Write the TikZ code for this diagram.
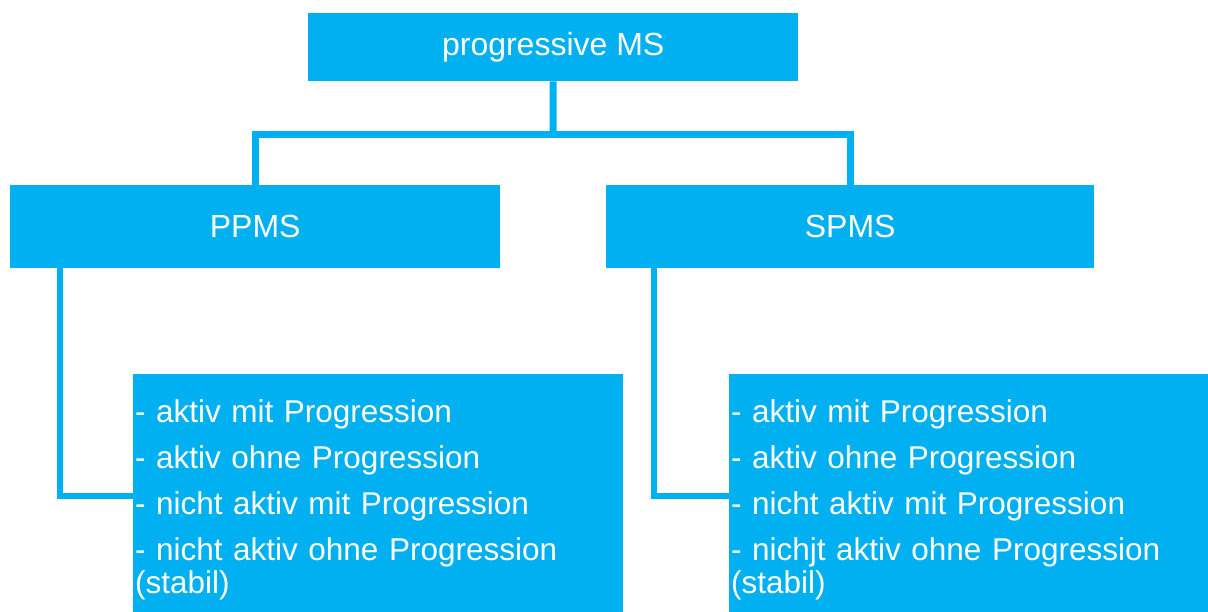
\documentclass[tikz,border=0pt]{standalone}
\usepackage{fontspec}
\setmainfont{Liberation Sans}
\definecolor{msblue}{RGB}{0,176,240}

\begin{document}
\begin{tikzpicture}[x=1pt, y=-1pt, every node/.style={fill=msblue, text=white, inner sep=0pt, font=\fontsize{32}{34}\selectfont}]
  \useasboundingbox (0,0) rectangle (1208,611);
  % top box
  \node[minimum width=490, minimum height=68, anchor=north west] (ms) at (308,13) {progressive MS};
  % the two forms
  \node[minimum width=490, minimum height=83, anchor=north west] (ppms) at (10,185) {PPMS};
  \node[minimum width=488, minimum height=83, anchor=north west] (spms) at (606,185) {SPMS};
  % lists of courses (boxes run past the lower edge)
  \node[minimum height=251, text width=486, inner xsep=2pt, align=left, anchor=north west, font=\fontsize{31.5}{33.5}\selectfont] (ppmsl) at (133,374)
    {- aktiv mit Progression\\[12.5pt]- aktiv ohne Progression\\[12.5pt]- nicht aktiv mit Progression\\[12.5pt]- nicht aktiv ohne Progression\\(stabil)};
  \node[minimum height=251, text width=475, inner xsep=2pt, align=left, anchor=north west, font=\fontsize{31.5}{33.5}\selectfont] (spmsl) at (729,374)
    {- aktiv mit Progression\\[12.5pt]- aktiv ohne Progression\\[12.5pt]- nicht aktiv mit Progression\\[12.5pt]- nichjt aktiv ohne Progression\\(stabil)};
  % tree lines
  \coordinate (split) at (553,134);
  \draw[msblue, line width=7pt] (ms.south) -- (split);
  \draw[msblue, line width=7pt] (ppms.north) |- (split) -| (spms.north);
  \draw[msblue, line width=6pt] ([xshift=50pt]ppms.south west) |- ([yshift=3.5pt]ppmsl.west);
  \draw[msblue, line width=6pt] ([xshift=48pt]spms.south west) |- ([yshift=3.5pt]spmsl.west);
\end{tikzpicture}
\end{document}
